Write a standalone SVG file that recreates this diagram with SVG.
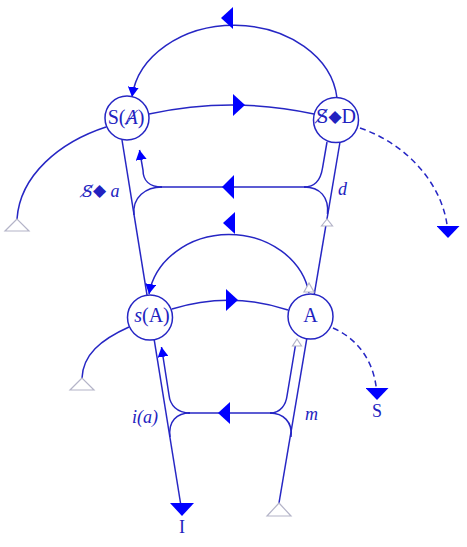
<svg xmlns="http://www.w3.org/2000/svg" width="467" height="547" viewBox="0 0 467 547">
<style>
.ln{fill:none;stroke:#2626c4;stroke-width:1.5}
.dash{fill:none;stroke:#2626c4;stroke-width:1.5;stroke-dasharray:6,4}
.arw{fill:#0000ff;stroke:none}
.tri{fill:#ffffff;stroke:#b4b4c8;stroke-width:1.2}
.nd{fill:#ffffff;stroke:#2626c4;stroke-width:1.5}
.t{font-family:"Liberation Serif","DejaVu Serif",serif;fill:#2222c0}
.big{font-size:20px}
.sm{font-size:18px}
.it{font-style:italic}
.dv{font-family:"DejaVu Serif",serif}
.dm{font-family:"DejaVu Sans",sans-serif;font-size:17px}
</style>
<defs>
<marker id="ah" viewBox="0 0 10 11" refX="10" refY="5.5" markerUnits="userSpaceOnUse" markerWidth="10" markerHeight="11" orient="auto">
<path d="M0,0 L10,5.5 L0,11z" fill="#0000ff"/>
</marker>
<marker id="ahb" viewBox="0 0 12 23" refX="12" refY="11.5" markerUnits="userSpaceOnUse" markerWidth="12" markerHeight="23" orient="auto">
<path d="M0,0 L12,11.5 L0,23z" fill="#0000ff"/>
</marker>
</defs>
<g id="connectors">
<path class="ln" d="M337,98 A103,80 0 0 0 132,97" marker-end="url(#ah)"/>
<polygon class="arw" points="221,18 233,7 233,29"/>
<path class="ln" d="M149,114 Q232,96 314,114"/>
<polygon class="arw" points="245,105 233,94 233,116"/>
<path class="ln" d="M309,293 A81,70 0 0 0 149,294" marker-end="url(#ah)"/>
<polygon class="arw" points="223,223 235,212 235,234"/>
<path class="ln" d="M172,309 Q230,291 288,310"/>
<polygon class="arw" points="238,300 226,289 226,311"/>
<path class="ln" d="M122,140 L181,506"/>
<polygon class="arw" points="170,503 194,503 182,516"/>
<path class="ln" d="M279,503 L340,142"/>
<path class="ln" d="M306,187 L160,187"/>
<polygon class="arw" points="222,187 234,175 234,199"/>
<path class="ln" d="M162,187 C149,187 143,180 143,170 L139.5,150" marker-end="url(#ah)"/>
<path class="ln" d="M162,187 C146,187 132,197 134,215"/>
<path class="ln" d="M304,187 C316,187 321,178 322.5,168 L327,142"/>
<path class="ln" d="M304,187 C320,187 329,197 327.5,214"/>
<path class="ln" d="M272,413 L188,413"/>
<polygon class="arw" points="218,413 230,402 230,424"/>
<path class="ln" d="M190,413 C177,413 170,405 169,395 L161.5,347" marker-end="url(#ah)"/>
<path class="ln" d="M190,413 C177,413 168,421 170,437"/>
<path class="ln" d="M270,413 C281,413 286,404 287,396 L296,342"/>
<path class="ln" d="M270,413 C283,413 293,422 291,437"/>
<path class="ln" d="M106,127 C60,142 20,175 17,219"/>
<polygon class="tri" points="17,219 5,231 29,231"/>
<path class="ln" d="M129,327 C100,340 83,355 82,378"/>
<polygon class="tri" points="82,378 70,390 94,390"/>
<polygon class="tri" points="279,503 267,516 291,516"/>
<polygon class="tri" points="327,219 321.5,226 332.5,226"/>
<polygon class="tri" points="309,283 304,292 314,292"/>
<polygon class="tri" points="297,339 292.5,346 301.5,346"/>
<path class="dash" d="M360,128 C410,145 448,190 448,238" marker-end="url(#ahb)"/>
<path class="dash" d="M333,328 C360,340 377,365 377,400" marker-end="url(#ahb)"/>
</g>
<g id="n-SbarA">
<circle class="nd" cx="127" cy="118" r="22"/>
<text class="t big" x="126" y="124" text-anchor="middle">S(<tspan class="it">Ⱥ</tspan>)</text>
</g>
<g id="n-SD">
<circle class="nd" cx="336" cy="120" r="22.5"/>
<text class="t big" x="336" y="122.5" text-anchor="middle"><tspan class="dv" font-size="18">S̸</tspan><tspan class="dm" dy="-1">◆</tspan><tspan dy="1">D</tspan></text>
</g>
<g id="n-sA">
<circle class="nd" cx="150" cy="317.5" r="22.5"/>
<text class="t big" x="152" y="322" text-anchor="middle"><tspan class="it">s</tspan>(A)</text>
</g>
<g id="n-A">
<circle class="nd" cx="310.5" cy="316.5" r="22.5"/>
<text class="t big" x="310.5" y="322" text-anchor="middle">A</text>
</g>
<g id="labels">
<text class="t sm" x="82" y="197"><tspan class="it dv" font-size="16">S̸</tspan><tspan class="dm" dy="-1">◆</tspan><tspan class="it" dy="1"> a</tspan></text>
<text class="t sm it" x="338" y="195">d</text>
<text class="t sm it" x="132" y="423">i(a)</text>
<text class="t sm it" x="305" y="420">m</text>
<text class="t sm" x="182" y="533" text-anchor="middle">I</text>
<text class="t sm" x="377" y="417" text-anchor="middle">S</text>
</g>
</svg>
